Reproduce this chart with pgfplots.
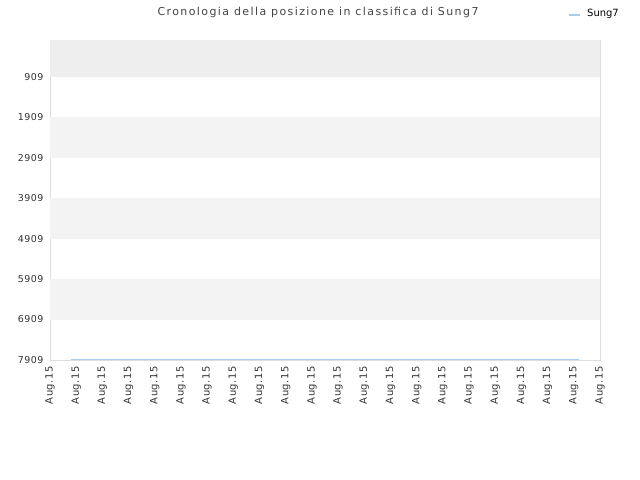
\documentclass[border=0pt]{standalone}
\usepackage{pgfplots}
\pgfplotsset{compat=1.18}
\usepackage{fontspec}
\setmainfont{DejaVu Sans}
\newfontfamily\spaced[LetterSpace=5]{DejaVu Sans}
\newfontfamily\titlefont[LetterSpace=13]{DejaVu Sans}
\definecolor{bandtop}{HTML}{EEEEEE}
\definecolor{band}{HTML}{F3F3F3}
\definecolor{gridc}{HTML}{E0E0E0}
\definecolor{framec}{HTML}{DDDDDD}
\definecolor{linec}{HTML}{A8CCEE}
\definecolor{textc}{HTML}{333333}
\definecolor{titlec}{HTML}{444444}

\begin{document}
\begin{tikzpicture}[x=1bp,y=1bp]
\useasboundingbox (0,0) rectangle (640,480);
\begin{axis}[
    at={(50bp,120bp)}, anchor=south west,
    scale only axis,
    width=550bp, height=320bp,
    y dir=reverse,
    xmin=0, xmax=21, ymin=0, ymax=7909,
    xtick={0,...,21},
    xticklabels={Aug.15,Aug.15,Aug.15,Aug.15,Aug.15,Aug.15,Aug.15,Aug.15,Aug.15,Aug.15,Aug.15,
                 Aug.15,Aug.15,Aug.15,Aug.15,Aug.15,Aug.15,Aug.15,Aug.15,Aug.15,Aug.15,Aug.15},
    ytick={909,1909,2909,3909,4909,5909,6909,7909},
    yticklabel style={font=\spaced\fontsize{9.5}{11}\selectfont, text=textc, xshift=-3bp},
    xticklabel style={font=\spaced\fontsize{10}{11}\selectfont, text=textc, rotate=90, anchor=east},
    xticklabel shift=3bp,
    /pgf/number format/assume math mode=true,
    /pgf/number format/set thousands separator={},
    scaled y ticks=false,
    major tick length=0pt,
    ymajorgrids, grid style={gridc, line width=0.6bp},
    axis line style={framec, line width=0.8bp},
    clip=true,
]
\fill[bandtop] (axis cs:0,0) rectangle (axis cs:21,909);
\fill[band] (axis cs:0,1909) rectangle (axis cs:21,2909);
\fill[band] (axis cs:0,3909) rectangle (axis cs:21,4909);
\fill[band] (axis cs:0,5909) rectangle (axis cs:21,6909);
\addplot[linec, line width=1bp, mark=none] coordinates {(0.8,7895) (20.2,7895)};
\end{axis}
\node[font=\titlefont\fontsize{11}{13}\selectfont, text=titlec] at (318,468) {Cronologia della posizione in classifica di Sung7};
\draw[linec, line width=1.2bp] (569,465) -- (580,465);
\node[font=\fontsize{10}{11}\selectfont, anchor=west, inner sep=0pt] at (587,466) {Sung7};
\end{tikzpicture}
\end{document}
